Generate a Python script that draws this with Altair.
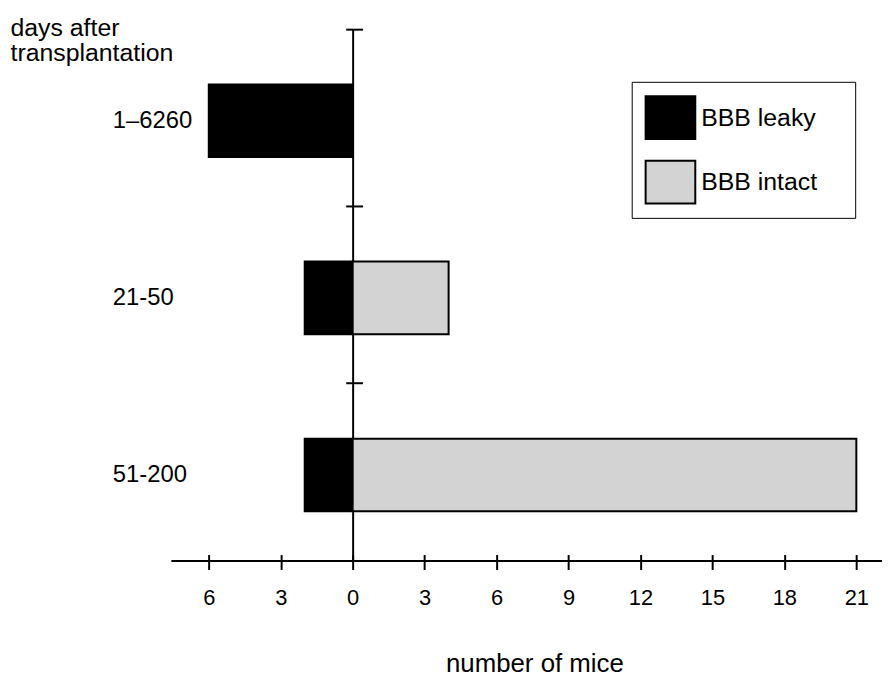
import altair as alt
import pandas as pd

periods = ["1–6260", "21-50", "51-200"]
leaky = [6, 2, 2]
intact = [0, 4, 21]
statuses = ["BBB leaky", "BBB intact"]
colors = ["#000000", "#d3d3d3"]
x_ticks = [-6, -3, 0, 3, 6, 9, 12, 15, 18, 21]

rows = []
for p, l, i in zip(periods, leaky, intact):
    if l > 0:
        rows.append({"period": p, "status": "BBB leaky", "start": -l, "end": 0})
    if i > 0:
        rows.append({"period": p, "status": "BBB intact", "start": 0, "end": i})
df = pd.DataFrame(rows)

FONT = "Liberation Sans"
xscale = alt.Scale(domain=[-7.58, 22.07], nice=False, zero=False)
yscale = alt.Scale(paddingInner=0, paddingOuter=0)

bars = alt.Chart(df).mark_bar(
    height=alt.RelativeBandSize(0.41), stroke="black", strokeWidth=2, yOffset=3
).encode(
    x=alt.X("start:Q", scale=xscale, axis=alt.Axis(
        orient="bottom", values=x_ticks, labelExpr="abs(datum.value)",
        domain=True, domainColor="black", domainWidth=2,
        ticks=True, tickSize=9, tickWidth=2, tickColor="black",
        labelFontSize=22, labelPadding=18, labelColor="black", labelFont=FONT,
        labelOverlap=False, labelFlush=False, grid=False,
        title="number of mice", titleX=366, titleY=112, titleBaseline="alphabetic",
        titleAlign="center", titleFontSize=26, titleFontWeight="normal",
        titleColor="black", titleFont=FONT)),
    x2="end:Q",
    y=alt.Y("period:N", sort=periods, scale=yscale, axis=alt.Axis(
        orient="left", domain=False, ticks=False, tickSize=0, labelPadding=59,
        labelAlign="left", labelBaseline="middle", labelOffset=3, labelFontSize=24,
        labelColor="black", labelFont=FONT, grid=False,
        title=["days after", "transplantation"], titleAngle=0, titleAlign="left",
        titleX=-162, titleY=6, titleBaseline="alphabetic", titleLineHeight=26,
        titleFontSize=25, titleFontWeight="normal", titleColor="black", titleFont=FONT)),
    color=alt.Color("status:N", scale=alt.Scale(domain=statuses, range=colors), legend=alt.Legend(
        orient="none", legendX=464, legendY=53, padding=10, title=None,
        strokeColor="black", fillColor="white",
        symbolType="M-1,-0.86H1V0.86H-1Z", symbolSize=2500, symbolOffset=3,
        symbolStrokeColor="black", symbolStrokeWidth=2, symbolOpacity=1,
        labelFontSize=25, labelFont=FONT, labelColor="black", labelOffset=5,
        labelExpr="datum.label + '\u00a0\u00a0\u00a0\u00a0\u200b'",
        rowPadding=13)),
)

left_ticks = alt.Chart(df).mark_bar(opacity=0).encode(
    x=alt.X("start:Q", scale=xscale, axis=None),
    x2="end:Q",
    y=alt.Y("period:N", sort=periods, scale=yscale, axis=alt.Axis(
        orient="left", offset=-183, bandPosition=0, labels=False, title=None,
        domain=True, domainColor="black", domainWidth=2,
        ticks=True, tickSize=7, tickWidth=2, tickColor="black", grid=False)),
)

right_ticks = alt.Chart(df).mark_bar(opacity=0).encode(
    x=alt.X("start:Q", scale=xscale, axis=alt.Axis(
        orient="top", offset=-535, values=x_ticks, labels=False, title=None,
        domain=False, ticks=True, tickSize=6, tickWidth=2, tickColor="black", grid=False)),
    x2="end:Q",
    y=alt.Y("period:N", sort=periods, scale=yscale, axis=alt.Axis(
        orient="right", offset=-533, bandPosition=0, labels=False, title=None,
        domain=False, ticks=True, tickSize=10, tickWidth=2, tickColor="black", grid=False)),
)

chart = alt.layer(bars, left_ticks, right_ticks).resolve_axis(
    x="independent", y="independent"
).properties(
    width=716, height=535,
    padding={"left": 164, "top": 19, "right": 0, "bottom": 120},
    autosize=alt.AutoSizeParams(type="none"),
    background="white",
).configure_view(stroke=None)

chart.save("out.html", embed_options={"renderer": "svg", "actions": False})
